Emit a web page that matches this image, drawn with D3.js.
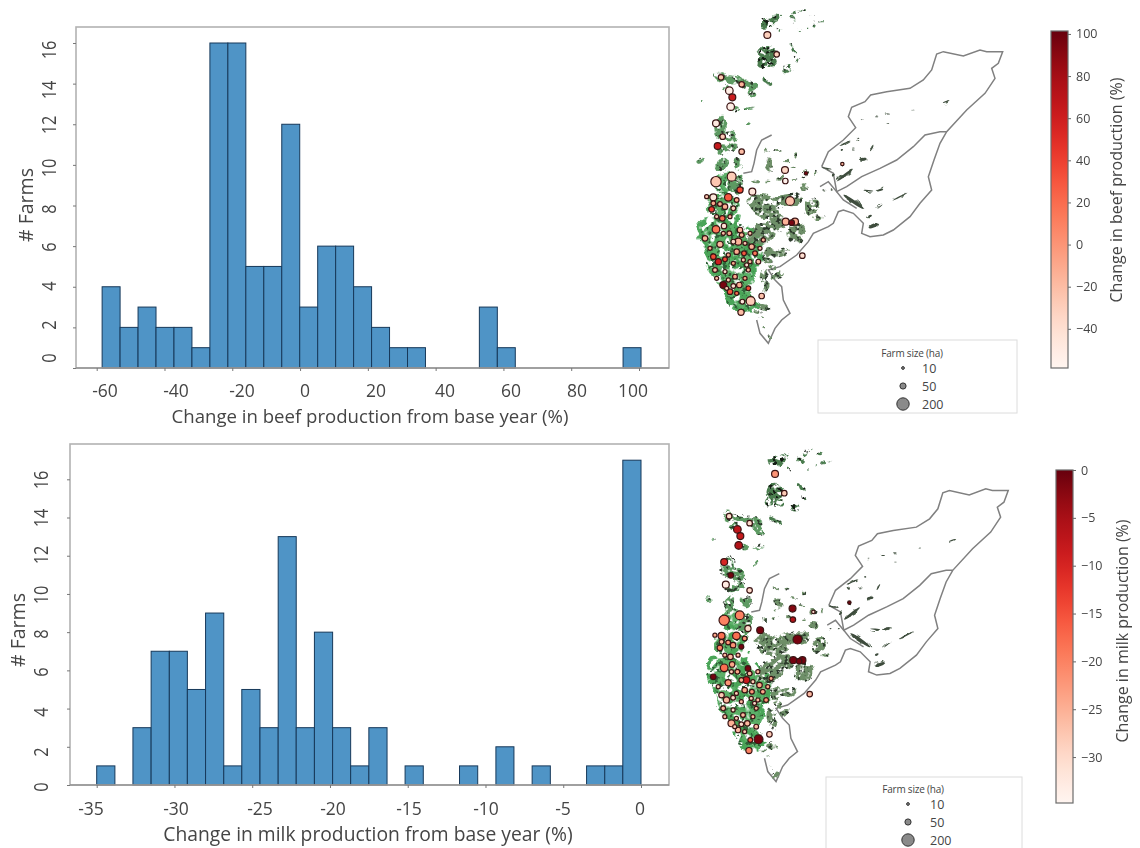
<!DOCTYPE html>
<html>
<head>
<meta charset="utf-8">
<script src="https://cdn.jsdelivr.net/npm/d3@7"></script>
<style>
body { margin: 0; background: #fff; }
svg { display: block; filter: blur(0.4px); }
text { font-family: "Open Sans", sans-serif; fill: #454545; }
.mapPanel { filter: blur(0.55px); }
</style>
</head>
<body>
<script>
// histogram counts, one per bin
var beefCounts = [4,2,3,2,2,1,16,16,5,5,12,3,6,6,4,2,1,1,0,0,0,3,1,0,0,0,0,0,0,1];
var beefBinEdges = [-58.4,-53.1,-47.8,-42.5,-37.2,-31.9,-26.6,-21.3,-16,-10.7,-5.4,-0.1,5.2,10.5,15.8,21.1,26.4,31.7,37,42.3,47.6,52.9,58.2,63.5,68.8,74.1,79.4,84.7,90,95.3,100.6];
var milkCounts = [1,0,3,7,7,5,9,1,5,3,13,3,8,3,1,3,0,1,0,0,1,0,2,0,1,0,0,1,1,17];
var milkBinEdges = [-35,-33.83,-32.67,-31.5,-30.33,-29.17,-28,-26.83,-25.67,-24.5,-23.33,-22.17,-21,-19.83,-18.67,-17.5,-16.33,-15.17,-14,-12.83,-11.67,-10.5,-9.33,-8.17,-7,-5.83,-4.67,-3.5,-2.33,-1.17,0];

// tick labels
var beefTicks = [-60,-40,-20,0,20,40,60,80,100];
var milkTicks = [-35,-30,-25,-20,-15,-10,-5,0];
var countTicks = [0,2,4,6,8,10,12,14,16];
var beefBarTicks = [100,80,60,40,20,0,-20,-40];
var milkBarTicks = [0,-5,-10,-15,-20,-25,-30];
var sizeLegend = [10,50,200];

// farms, in map units
var farmX = [262,290,123,185,148,157,152,108,128,113, 185,108,155,180,217,100,145,330,315,316, 95,120,100,135,160,127,108,132,75,120, 180,175,160,185,195,215,170,192,145,225, 100,115,135,160,190,235,210,105,135,165, 200,130,150,160,178,205,140,212,187,183, 245,317,345,335,367,378,487, 250,148,210,130,205,90,145,110,240,170,195,80,170,110,150];
var farmY = [105,163,232,253,272,292,320,370,410,438, 455,545,530,570,575,592,592,603,510,543, 628,612,610,620,625,655,688,678,715,733, 690,725,725,705,730,740,755,760,765,760, 770,785,778,790,780,785,785,810,815,830, 795,855,875,858,855,865,865,903,905,937, 888,665,665,668,767,520,492, 720,700,700,700,810,745,840,835,745,880,835,590,600,650,650];
var farmHa = [62,40,40,40,75,62,75,62,40,62, 40,139,104,50,62,62,75,104,62,40, 40,30,30,40,30,40,75,40,40,50, 40,62,30,30,22,40,40,30,22,30, 40,50,30,22,22,30,22,30,22,30, 22,62,40,30,40,30,22,104,30,50, 40,62,62,40,40,15,15, 22,30,22,22,22,22,22,22,22,22,22,22,30,22,22];
var farmBeef = [-30,-30,-25,-15,-52,62,-52,-48,-28,65, -20,-25,-28,35,-45,-45,30,-22,-35,-55, 40,-15,-10,-12,-30,20,15,-40,-15,-18, -15,-15,-35,-15,-25,-15,-12,30,-10,15, 35,60,35,-10,-25,-22,-20,-22,-40,-10, -40,95,30,-40,-12,35,-25,-28,-45,-20, -22,-15,-10,95,-40,95,-15, -15,-12,-25,-20,-20,-15,-30,-20,-25,20,-10,-25,-10,-25,-15];
var farmMilk = [-22,-28,-30,-30,-7,-8,-6,-10,-1,-33, -30,-20,-20,-30,-1,-18,-18,-1,-2,-6, -20,-22,-26,-22,-1,-26,-18,-24,-1,-22, -1,-8,-24,-26,-28,-24,-24,-22,-28,-24, -28,-26,-30,-26,-28,-22,-26,-26,-30,-26, -30,-25,-26,-30,-26,-26,-28,-1,-16,-20, -28,-1,-1,-1,-26,-30,-1, -24,-24,-26,-28,-26,-28,-28,-26,-24,-28,-26,-24,-22,-26,-26];

// catchment boundary, in map units
var outerBoundary = [[425,500],[445,455],[490,420],[527,383],[505,350],[515,322],[555,305],[572,285],[620,275],[690,265],[730,240],[755,210],[770,162],[790,155],[850,168],[900,150],[920,155],[968,155],[955,190],[935,205],[945,235],[915,280],[860,330],[800,395],[780,430],[762,480],[745,530],[755,570],[720,610],[690,650],[640,690],[610,705],[570,710],[545,700],[550,670],[520,640],[490,630],[475,635],[460,670],[445,680],[400,700],[385,725],[350,765],[300,800],[265,810],[285,840],[305,860],[310,900],[330,940],[305,960],[285,985],[265,1030],[240,1000],[230,960]];
var innerBoundary = [[800,395],[780,395],[735,405],[700,440],[650,480],[600,505],[545,530],[500,560],[470,575],[445,545],[420,560]];
var westBoundary = [[425,500],[460,520],[470,575],[490,600],[530,625]];
var fjordBoundary = [[275,405],[245,420],[230,450],[222,490],[215,515],[190,520]];

// coast pasture and land parcels: x, y, rx, ry, angle
var coastRibbons = [
    [[55,680],[70,660],[100,655],[130,650],[150,620],[170,600]],
    [[55,680],[70,720],[85,760],[105,810],[130,860],[150,900],[175,930],[215,930]],
    [[130,650],[140,700],[150,760],[190,800],[240,790],[240,720],[205,680]],
    [[100,720],[150,740],[200,720]],
    [[100,780],[170,810],[230,810]],
    [[120,830],[180,880],[240,920]],
    [[80,600],[130,590],[170,600]],
    [[110,560],[150,590]],
    [[175,640],[165,700],[215,760],[220,830]]
];
var coastParcels = [[135,720,72,60,20],[165,820,60,45,30],[130,620,50,30,-10],[185,900,42,36,30],[120,790,38,42,0],[210,760,30,50,0],[135,545,32,32,0]];
var islandParcels = [[262,68,22,14,-20],[285,55,10,12,0],[248,65,8,8,0],[300,90,4,6,0],[262,160,26,22,-10],[245,190,14,14,0],[275,190,12,10,0],[292,165,8,8,0],[340,145,5,14,-30],[322,205,13,16,0],[350,178,4,8,-30],[262,245,16,5,25],[350,40,12,4,-40],[368,32,8,3,-20],[395,45,6,3,20],[405,72,6,4,30],[360,90,4,3,0],[385,85,3,3,0],[425,65,4,2,0],[340,60,5,8,-30],[300,50,3,3,0]];
var westParcels = [[120,232,22,12,20],[160,240,30,10,10],[205,255,28,15,20],[215,280,15,8,30],[140,262,12,10,0],[210,325,18,4,-10],[165,325,12,10,0],[205,375,8,4,-40],[120,385,20,32,10],[150,410,20,18,30],[130,450,18,14,0],[160,440,14,10,0],[125,495,16,22,0],[175,490,14,16,0],[62,482,7,6,0],[70,300,4,3,0],[185,460,6,6,0],[170,555,22,30,0]];
var inlandParcels = [[250,620,50,32,25],[320,600,50,18,-5],[290,670,30,25,0],[350,700,28,32,10],[245,700,32,38,60],[395,620,25,16,-50],[415,650,12,8,0],[300,760,28,10,-20],[268,495,12,20,-20],[230,545,10,5,0],[265,540,10,4,0],[300,535,8,4,0],[295,450,10,3,0],[265,452,7,3,0],[320,480,8,4,0],[348,465,5,8,0],[340,500,10,3,0],[375,520,9,9,0],[405,518,4,6,0],[345,540,7,3,0],[375,560,12,10,0],[290,825,16,9,-20],[275,800,10,8,0],[250,925,15,10,10],[240,955,6,3,0],[268,1012,8,6,0],[255,985,7,3,30],[225,935,10,4,0],[260,860,8,14,20],[265,765,18,22,0],[250,830,14,22,0]];
var valleyParcels = [[495,525,30,4,-38],[520,605,36,5,35],[565,572,15,2,5],[600,570,10,3,-15],[580,678,15,5,-20],[550,478,10,4,-10],[575,445,10,2,-60],[495,430,18,2,-25],[487,492,5,5,0],[440,505,15,2,10],[460,525,5,3,-40],[570,648,6,3,-20],[600,620,10,1.5,-40],[660,590,25,2,-28],[798,305,10,2,-20],[590,350,5,1.5,0],[625,342,5,1.5,0],[545,358,3,1,0],[700,330,4,1,0],[625,370,3,1,0],[485,450,3,3,0],[535,415,3,2,0],[430,570,3,2,0],[455,570,3,2,0],[520,450,4,1.5,0]];

var width = 1140,
    height = 848;

var svg = d3.select("body")
    .append("svg")
    .attr("width", width)
    .attr("height", height);

var defs = svg.append("defs");

// rough edged parcels with holes cut out by a thresholded noise mask
function addParcelFilter(id, freq, seed, gain, offset) {
    var f = defs.append("filter")
        .attr("id", id)
        .attr("filterUnits", "userSpaceOnUse")
        .attr("x", 680).attr("y", 0)
        .attr("width", 460).attr("height", height)
        .attr("color-interpolation-filters", "sRGB");
    f.append("feTurbulence")
        .attr("type", "fractalNoise")
        .attr("baseFrequency", 0.09)
        .attr("numOctaves", 2)
        .attr("seed", seed)
        .attr("result", "warp");
    f.append("feDisplacementMap")
        .attr("in", "SourceGraphic")
        .attr("in2", "warp")
        .attr("scale", 9)
        .attr("xChannelSelector", "R")
        .attr("yChannelSelector", "G")
        .attr("result", "shape");
    f.append("feTurbulence")
        .attr("type", "fractalNoise")
        .attr("baseFrequency", freq)
        .attr("numOctaves", 2)
        .attr("seed", seed + 4)
        .attr("result", "noise");
    f.append("feColorMatrix")
        .attr("in", "noise")
        .attr("type", "matrix")
        .attr("values", "0 0 0 0 0  0 0 0 0 0  0 0 0 0 0  " + gain + " 0 0 0 " + offset)
        .attr("result", "mask");
    f.append("feComposite")
        .attr("in", "shape")
        .attr("in2", "mask")
        .attr("operator", "in");
}
addParcelFilter("coastFilter", 0.12, 3, 9, -3.25);
addParcelFilter("landFilter", 0.18, 7, 8, -2.7);
addParcelFilter("fleckFilter", 0.26, 11, 8, -4.4);

// bubble size shared by both maps and legends
var sizeScale = d3.scaleSqrt().domain([0, 200]).range([0, 6.2]);

// histogram panel
function drawHistogram(opts) {
    var g = svg.append("g");

    var x = d3.scaleLinear().domain(opts.xDomain).range(opts.xRange);
    var y = d3.scaleLinear().domain([0, 16]).range(opts.yRange);

    opts.counts.forEach(function(c, i) {
        if (c === 0) return;
        g.append("rect")
            .attr("class", "bar")
            .attr("x", x(opts.edges[i]))
            .attr("y", y(c))
            .attr("width", x(opts.edges[i + 1]) - x(opts.edges[i]))
            .attr("height", y(0) - y(c))
            .attr("fill", "#4f94c6")
            .attr("stroke", "#17395a")
            .attr("stroke-width", 1);
    });

    // frame
    g.append("rect")
        .attr("x", opts.left)
        .attr("y", opts.top)
        .attr("width", opts.right - opts.left)
        .attr("height", y(0) - opts.top)
        .attr("fill", "none")
        .attr("stroke", "#b2b2b2")
        .attr("stroke-width", 1.6);
    g.append("line")
        .attr("x1", opts.left).attr("x2", opts.right)
        .attr("y1", y(0)).attr("y2", y(0))
        .attr("stroke", "#808080")
        .attr("stroke-width", 1.2);

    // tick marks from the axes, labels sit apart from them as in the figure
    g.append("g")
        .attr("transform", "translate(0," + y(0) + ")")
        .call(d3.axisBottom(x).tickValues(opts.xTicks).tickSize(3).tickFormat(""))
        .call(function(a) { a.select(".domain").remove(); })
        .selectAll("line").attr("stroke", "#777");
    g.append("g")
        .attr("transform", "translate(" + opts.left + ",0)")
        .call(d3.axisLeft(y).tickValues(countTicks).tickSize(3).tickFormat(""))
        .call(function(a) { a.select(".domain").remove(); })
        .selectAll("line").attr("stroke", "#777");

    var xLabel = d3.scaleLinear().domain(opts.xTicks).range(opts.xLabelPos);
    g.selectAll(".xLabel")
        .data(opts.xTicks)
        .enter()
        .append("text")
        .attr("class", "xLabel")
        .attr("x", function(d) { return xLabel(d); })
        .attr("y", opts.xLabelY)
        .attr("text-anchor", "middle")
        .attr("font-size", 17.5)
        .text(function(d) { return d; });

    var yLabel = d3.scaleLinear().domain(countTicks).range(opts.yLabelPos);
    g.selectAll(".yLabel")
        .data(countTicks)
        .enter()
        .append("text")
        .attr("class", "yLabel")
        .attr("transform", function(d) {
            return "translate(" + opts.yLabelX + "," + yLabel(d) + ") rotate(-90) scale(0.82,1)";
        })
        .attr("text-anchor", "middle")
        .attr("font-size", 20)
        .text(function(d) { return d; });

    g.append("text")
        .attr("transform", "translate(" + opts.yTitleX + "," + opts.yTitleY + ") rotate(-90)")
        .attr("text-anchor", "middle")
        .attr("font-size", 19.5)
        .text("# Farms");

    g.append("text")
        .attr("x", opts.xTitleX)
        .attr("y", opts.xTitleY)
        .attr("text-anchor", "middle")
        .attr("font-size", opts.xTitleSize)
        .text(opts.xTitle);
}

drawHistogram({
    counts: beefCounts,
    edges: beefBinEdges,
    xTicks: beefTicks,
    xDomain: [-60, 100],
    xRange: [96.7, 639],
    yRange: [368, 43],
    left: 76, right: 669, top: 27,
    xLabelPos: [105,176,242,305,376,445,511,577,633],
    xLabelY: 397,
    yLabelPos: [358,325,286,247,209,168,125,90,50],
    yLabelX: 56,
    yTitleX: 33, yTitleY: 205,
    xTitle: "Change in beef production from base year (%)",
    xTitleX: 370, xTitleY: 422.5, xTitleSize: 18.6
});

drawHistogram({
    counts: milkCounts,
    edges: milkBinEdges,
    xTicks: milkTicks,
    xDomain: [-35, 0],
    xRange: [96.7, 641],
    yRange: [785, 479.3],
    left: 70, right: 669, top: 444,
    xLabelPos: [91,176,260,333,409,486,563,640],
    xLabelY: 815,
    yLabelPos: [787,752,712,672,634,595,555,518,480],
    yLabelX: 48,
    yTitleX: 25, yTitleY: 630,
    xTitle: "Change in milk production from base year (%)",
    xTitleX: 368, xTitleY: 841, xTitleSize: 19.3
});

// map panel
function drawMap(opts) {
    var g = svg.append("g").attr("class", "mapPanel");

    var x = d3.scaleLinear().domain([0, 1020]).range(opts.xRange);
    var y = d3.scaleLinear().domain([0, 1260]).range(opts.yRange);
    var line = d3.line()
        .x(function(d) { return x(d[0]); })
        .y(function(d) { return y(d[1]); });

    // catchment outline
    g.selectAll(".boundary")
        .data([outerBoundary, innerBoundary, westBoundary, fjordBoundary])
        .enter()
        .append("path")
        .attr("class", "boundary")
        .attr("d", line)
        .attr("fill", "none")
        .attr("stroke", "#808080")
        .attr("stroke-width", 1.5);

    function parcels(layer, list, fill) {
        layer.selectAll(null)
            .data(list)
            .enter()
            .append("ellipse")
            .attr("transform", function(d) {
                return "translate(" + x(d[0]) + "," + y(d[1]) + ") rotate(" + d[4] + ")";
            })
            .attr("rx", function(d) { return d[2] / 3; })
            .attr("ry", function(d) { return d[3] / 3; })
            .attr("fill", fill);
    }

    // bright coast pasture
    var coast = g.append("g").attr("filter", "url(#coastFilter)");
    parcels(coast, coastParcels, "#5cb068");
    coast.selectAll(".ribbon")
        .data(coastRibbons)
        .enter()
        .append("path")
        .attr("class", "ribbon")
        .attr("d", line)
        .attr("fill", "none")
        .attr("stroke", "#4aa558")
        .attr("stroke-width", 5)
        .attr("stroke-linejoin", "round");

    var land = g.append("g").attr("filter", "url(#landFilter)");
    parcels(land, westParcels, "#5d9a62");
    parcels(land, inlandParcels, "#6e8f68");
    parcels(land, islandParcels, "#4a7c4e");
    parcels(land, valleyParcels, "#4d5f4b");

    // dark flecks from the parcel edges
    var flecks = g.append("g").attr("filter", "url(#fleckFilter)");
    parcels(flecks, coastParcels, "#2f6238");
    parcels(flecks, westParcels, "#2c3a2c");
    parcels(flecks, inlandParcels, "#2c3a2c");
    parcels(flecks, islandParcels, "#141c14");

    // valley strips stay solid
    var valleys = g.append("g");
    parcels(valleys, valleyParcels, "#3e4c3d");

    // farms
    g.selectAll(".farm")
        .data(d3.range(farmX.length))
        .enter()
        .append("circle")
        .attr("class", "farm")
        .attr("cx", function(i) { return x(farmX[i]); })
        .attr("cy", function(i) { return y(farmY[i]); })
        .attr("r", function(i) { return sizeScale(farmHa[i]); })
        .attr("fill", function(i) { return opts.color(opts.values[i]); })
        .attr("stroke", "#3a1414")
        .attr("stroke-width", 1.2);
}

var beefColor = d3.scaleSequential(d3.interpolateReds).domain([-58.6, 101.4]);
var milkColor = d3.scaleSequential(d3.interpolateReds).domain([-34.8, 0]);

drawMap({ xRange: [680, 1020], yRange: [0, 420], values: farmBeef, color: beefColor });
drawMap({ xRange: [688.5, 1025.4], yRange: [439, 858], values: farmMilk, color: milkColor });

// farm size legend
function drawSizeLegend(opts) {
    var g = svg.append("g");
    g.append("rect")
        .attr("x", opts.x)
        .attr("y", opts.y)
        .attr("width", opts.w)
        .attr("height", opts.h)
        .attr("fill", "#fff")
        .attr("stroke", "#dcdcdc")
        .attr("stroke-width", 1);
    g.append("text")
        .attr("x", opts.titleX)
        .attr("y", opts.titleY)
        .attr("text-anchor", "middle")
        .attr("font-size", 10)
        .attr("letter-spacing", -0.2)
        .text("Farm size (ha)");

    var row = d3.scalePoint().domain(sizeLegend).range(opts.rows);
    var items = g.selectAll(".sizeItem")
        .data(sizeLegend)
        .enter()
        .append("g")
        .attr("transform", function(d) { return "translate(0," + row(d) + ")"; });
    items.append("circle")
        .attr("cx", opts.circleX)
        .attr("r", function(d) { return sizeScale(d); })
        .attr("fill", "#8a8a8a")
        .attr("stroke", "#333")
        .attr("stroke-width", 1);
    items.append("text")
        .attr("x", opts.labelX)
        .attr("y", 4.5)
        .attr("font-size", 12.5)
        .text(function(d) { return d; });
}

drawSizeLegend({ x: 818, y: 340, w: 199, h: 73, titleX: 912, titleY: 357, rows: [368, 404], circleX: 903, labelX: 922 });
drawSizeLegend({ x: 826, y: 777, w: 196, h: 80, titleX: 913, titleY: 793, rows: [804, 840], circleX: 908, labelX: 930 });

// colour bars
function drawColorbar(opts) {
    var g = svg.append("g");
    var y = d3.scaleLinear().domain(opts.domain).range(opts.range);

    var grad = defs.append("linearGradient")
        .attr("id", opts.id)
        .attr("x1", 0).attr("x2", 0)
        .attr("y1", 1).attr("y2", 0);
    grad.selectAll("stop")
        .data(d3.range(0, 1.001, 0.05))
        .enter()
        .append("stop")
        .attr("offset", function(d) { return d; })
        .attr("stop-color", function(d) { return d3.interpolateReds(d); });

    g.append("rect")
        .attr("x", opts.x)
        .attr("y", opts.range[1])
        .attr("width", opts.w)
        .attr("height", opts.range[0] - opts.range[1])
        .attr("fill", "url(#" + opts.id + ")")
        .attr("stroke", "#6b6b6b")
        .attr("stroke-width", 1.2);

    var axis = d3.axisRight(y)
        .tickValues(opts.ticks)
        .tickSize(3)
        .tickPadding(5)
        .tickFormat(d3.format("d"));
    g.append("g")
        .attr("transform", "translate(" + (opts.x + opts.w) + ",0)")
        .call(axis)
        .call(function(a) { a.select(".domain").remove(); })
        .call(function(a) {
            a.selectAll("line").attr("stroke", "#666");
            a.selectAll("text")
                .attr("font-size", 12.5)
                .attr("font-family", "'Open Sans', sans-serif")
                .style("fill", "#454545");
        });

    g.append("text")
        .attr("transform", "translate(" + opts.titleX + "," + opts.titleY + ") rotate(-90)")
        .attr("text-anchor", "middle")
        .attr("font-size", 16)
        .text(opts.title);
}

drawColorbar({
    id: "beefGrad", x: 1051, w: 17, domain: [-58.6, 101.4], range: [368, 31],
    ticks: beefBarTicks, title: "Change in beef production (%)", titleX: 1122, titleY: 190
});
drawColorbar({
    id: "milkGrad", x: 1056, w: 17, domain: [-34.8, 0], range: [803, 470],
    ticks: milkBarTicks, title: "Change in milk production (%)", titleX: 1128, titleY: 631
});
</script>
</body>
</html>
